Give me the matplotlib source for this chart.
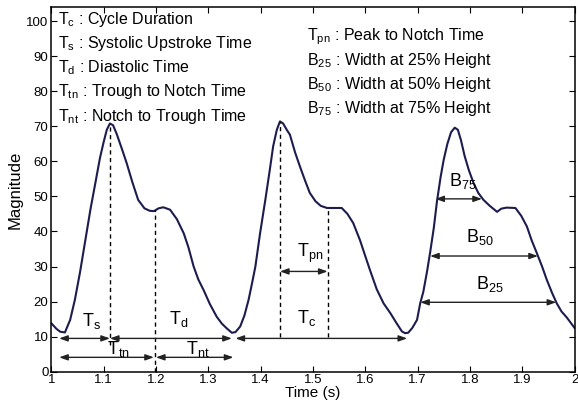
import matplotlib
matplotlib.use("Agg")
import matplotlib.pyplot as plt

plt.rcParams['font.family'] = ['Liberation Sans', 'DejaVu Sans']

# waveform (time in s, magnitude)
t = [1.000, 1.010, 1.017, 1.026, 1.036, 1.045, 1.055, 1.065, 1.075, 1.085,
     1.093, 1.100, 1.106, 1.112, 1.118, 1.125, 1.135, 1.144, 1.155, 1.166,
     1.178, 1.188, 1.196, 1.205, 1.214, 1.227, 1.240, 1.253, 1.262, 1.272,
     1.281, 1.291, 1.303, 1.316, 1.326, 1.335, 1.345, 1.352, 1.361, 1.369,
     1.377, 1.384, 1.390, 1.399, 1.409, 1.417, 1.424, 1.431, 1.437, 1.443,
     1.450, 1.456, 1.466, 1.475, 1.485, 1.494, 1.505, 1.515, 1.527, 1.555,
     1.566, 1.577, 1.590, 1.600, 1.609, 1.622, 1.635, 1.648, 1.660, 1.670,
     1.676, 1.682, 1.690, 1.699, 1.705, 1.711, 1.718, 1.724, 1.731, 1.737,
     1.744, 1.750, 1.757, 1.764, 1.771, 1.777, 1.783, 1.790, 1.798, 1.807,
     1.816, 1.826, 1.838, 1.852, 1.860, 1.870, 1.887, 1.898, 1.909, 1.918,
     1.928, 1.938, 1.947, 1.957, 1.966, 1.975, 1.985, 2.000]
mag = [13.8, 12.2, 11.4, 11.2, 14.8, 20.5, 28.5, 37.5, 46.5, 54.5,
       61.0, 65.5, 69.0, 70.8, 70.3, 67.8, 63.5, 59.5, 54.0, 49.0,
       46.6, 45.9, 45.8, 46.6, 46.9, 46.2, 43.5, 39.5, 35.5, 30.0,
       26.3, 23.3, 19.3, 15.7, 13.7, 12.4, 11.1, 11.3, 12.9, 16.0,
       20.5, 25.5, 30.0, 39.5, 49.0, 57.0, 64.3, 69.0, 71.4, 70.8,
       69.0, 67.6, 62.5, 58.6, 54.5, 51.0, 48.6, 47.3, 46.7, 46.7,
       45.0, 42.4, 37.5, 33.0, 29.0, 23.5, 19.5, 16.7, 13.8, 11.5,
       11.0, 11.1, 12.5, 14.8, 19.5, 22.8, 28.5, 34.0, 41.0, 48.5,
       55.5, 60.5, 65.0, 68.3, 69.6, 69.0, 66.0, 61.5, 57.5, 53.8,
       51.0, 49.0, 47.3, 45.6, 46.5, 46.8, 46.7, 44.5, 41.4, 37.5,
       33.8, 30.0, 26.2, 22.5, 19.5, 17.2, 15.5, 12.5]

# interval arrows: start, end, level
arrow_x0 = [1.015, 1.112, 1.352, 1.015, 1.200, 1.437, 1.734, 1.724, 1.705]
arrow_x1 = [1.112, 1.345, 1.680, 1.196, 1.348, 1.528, 1.823, 1.930, 1.965]
arrow_y = [9.5, 9.5, 9.5, 4.1, 4.1, 28.6, 49.3, 33.0, 19.8]

# dashed markers: time, top, bottom
dash_x = [1.112, 1.198, 1.437, 1.528]
dash_top = [70.5, 46.0, 71.2, 46.7]
dash_bot = [7.5, 0.0, 10.0, 10.0]

# interval labels
lab_text = ['$\\mathregular{T_s}$', '$\\mathregular{T_d}$', '$\\mathregular{T_{tn}}$',
            '$\\mathregular{T_{nt}}$', '$\\mathregular{T_c}$', '$\\mathregular{T_{pn}}$',
            '$\\mathregular{B_{75}}$', '$\\mathregular{B_{50}}$', '$\\mathregular{B_{25}}$']
lab_x = [1.059, 1.224, 1.106, 1.257, 1.470, 1.470, 1.760, 1.792, 1.811]
lab_y = [13.1, 13.5, 5.0, 5.0, 14.0, 32.6, 53.0, 36.9, 23.5]

# definitions in the upper part
left_defs = ['$\\mathregular{T_c}$ : Cycle Duration',
             '$\\mathregular{T_s}$ : Systolic Upstroke Time',
             '$\\mathregular{T_d}$ : Diastolic Time',
             '$\\mathregular{T_{tn}}$ : Trough to Notch Time',
             '$\\mathregular{T_{nt}}$ : Notch to Trough Time']
left_y = [99.3, 92.3, 85.4, 78.5, 71.5]
right_defs = ['$\\mathregular{T_{pn}}$ : Peak to Notch Time',
              '$\\mathregular{B_{25}}$ : Width at 25% Height',
              '$\\mathregular{B_{50}}$ : Width at 50% Height',
              '$\\mathregular{B_{75}}$ : Width at 75% Height']
right_y = [94.6, 87.6, 80.7, 73.7]

fig = plt.figure(figsize=(5.78, 4.12), dpi=100)
ax = fig.add_axes([0.0888, 0.0978, 0.9052, 0.885])

ax.plot(t, mag, color='#1c1c4e', lw=1.5)

for x, top, bot in zip(dash_x, dash_top, dash_bot):
    ax.plot([x, x], [bot, top], color='black', lw=1, linestyle=(0, (3, 2.5)))

for x0, x1, y in zip(arrow_x0, arrow_x1, arrow_y):
    ax.annotate('', xy=(x1, y), xytext=(x0, y),
                arrowprops=dict(arrowstyle='<|-|>,head_length=0.5,head_width=0.18',
                                color='#222222', lw=1, shrinkA=0, shrinkB=0,
                                mutation_scale=10))

for s, x, y in zip(lab_text, lab_x, lab_y):
    ax.text(x, y, s, fontsize=13, ha='left', va='baseline')

for s, y in zip(left_defs, left_y):
    ax.text(1.013, y, s, fontsize=11.5, ha='left', va='baseline')
for s, y in zip(right_defs, right_y):
    ax.text(1.489, y, s, fontsize=11.5, ha='left', va='baseline')

ax.set_xlim(1, 2)
ax.set_ylim(0, 104)
ax.set_xticks([1, 1.1, 1.2, 1.3, 1.4, 1.5, 1.6, 1.7, 1.8, 1.9, 2])
ax.set_xticklabels(['1', '1.1', '1.2', '1.3', '1.4', '1.5', '1.6', '1.7', '1.8', '1.9', '2'])
ax.set_yticks(range(0, 101, 10))
ax.tick_params(direction='in', top=True, right=True, length=4, labelsize=9.5, pad=2)
for sp in ax.spines.values():
    sp.set_linewidth(1.1)

ax.set_xlabel('Time (s)', fontsize=11, labelpad=0)
ax.set_ylabel('Magnitude', fontsize=12, labelpad=3)

fig.savefig('out.png', dpi=100)
